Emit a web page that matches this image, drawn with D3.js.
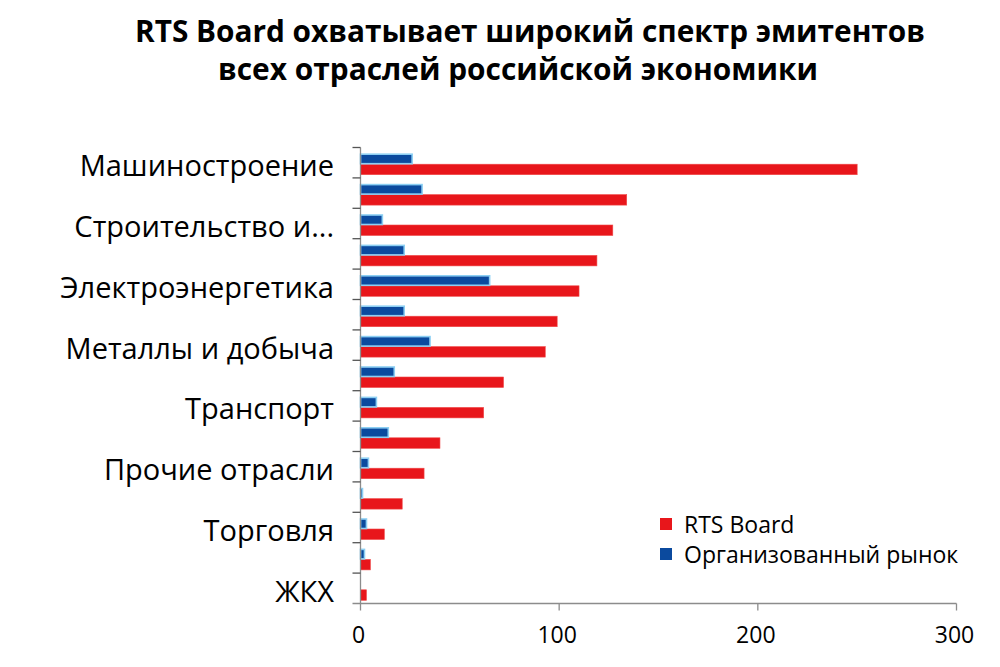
<!DOCTYPE html>
<html>
<head>
<meta charset="utf-8">
<script src="https://cdn.jsdelivr.net/npm/d3@7"></script>
<style>
  html, body { margin: 0; padding: 0; background: #fff; }
  svg { display: block; }
  text { font-family: "Open Sans", "Noto Sans", sans-serif; fill: #000; }
</style>
</head>
<body>
<svg id="chart" width="1000" height="667"></svg>
<script>
// ---- data ----
const categories = [
  "Машиностроение", "Нефть и газ", "Строительство и девелопмент", "Химия и нефтехимия",
  "Электроэнергетика", "Пищевая промышленность", "Металлы и добыча", "Связь",
  "Транспорт", "Финансы", "Прочие отрасли", "Лесная промышленность",
  "Торговля", "Сельское хозяйство", "ЖКХ"
];
const shownLabels = [
  "Машиностроение", "Строительство и...", "Электроэнергетика", "Металлы и добыча",
  "Транспорт", "Прочие отрасли", "Торговля", "ЖКХ"
];
const rtsBoard = [250, 134, 127, 119, 110, 99, 93, 72, 62, 40, 32, 21, 12, 5, 3];
const organized = [26, 31, 11, 22, 65, 22, 35, 17, 8, 14, 4, 1, 3, 2, 0];
const xTicks = [0, 100, 200, 300];
const seriesNames = ["RTS Board", "Организованный рынок"];
const titleLines = [
  "RTS Board охватывает широкий спектр эмитентов",
  "всех отраслей российской экономики"
];

// ---- drawing ----
const svg = d3.select("#chart");
const RED = "#e8161b", BLUE = "#0b4a9e", BLUE_EDGE = "#8ccff3", AXIS = "#8c8c8c";

const x = d3.scaleLinear().domain([0, 300]).range([360.5, 956.5]);
const y = d3.scaleBand().domain(categories).range([147.5, 603.5]).paddingInner(0).paddingOuter(0);
const bw = y.bandwidth();
const groupH = 21;
const sub = d3.scaleBand().domain(["org", "rts"]).range([0, groupH]).padding(0);

// title
svg.append("g").selectAll("text").data(titleLines).join("text")
  .attr("x", (d, i) => i === 0 ? 530 : 518).attr("y", (d, i) => 42 + i * 38)
  .attr("text-anchor", "middle")
  .style("font-weight", "bold").style("font-size", "31px")
  .attr("textLength", (d, i) => i === 0 ? 790 : 600)
  .attr("lengthAdjust", "spacingAndGlyphs")
  .text(d => d);

// bars
const g = svg.append("g");
const rows = g.selectAll("g.row").data(categories.map((c, i) => ({c, r: rtsBoard[i], o: organized[i]})))
  .join("g").attr("class", "row")
  .attr("transform", d => `translate(0,${y(d.c) + (bw - groupH) / 2 + 1.5})`);

rows.append("rect")
  .attr("x", x(0)).attr("y", sub("rts"))
  .attr("width", d => x(d.r) - x(0)).attr("height", sub.bandwidth())
  .attr("fill", RED).attr("stroke", "#f04a4a").attr("stroke-width", 0.6);

rows.filter(d => d.o > 0).append("rect")
  .attr("x", x(0)).attr("y", sub("org") + 0.5)
  .attr("width", d => x(d.o) - x(0)).attr("height", sub.bandwidth() - 1)
  .attr("fill", BLUE).attr("stroke", BLUE_EDGE).attr("stroke-width", 1.6);

// y axis
const yAxisG = svg.append("g");
yAxisG.append("line").attr("x1", x(0)).attr("x2", x(0))
  .attr("y1", y.range()[0]).attr("y2", y.range()[1])
  .attr("stroke", AXIS).attr("stroke-width", 1.3);
const boundaries = categories.map(c => y(c));
yAxisG.selectAll("line.tk").data(boundaries).join("line").attr("class", "tk")
  .attr("x1", x(0) - 8).attr("x2", x(0)).attr("y1", d => d).attr("y2", d => d)
  .attr("stroke", "#555").attr("stroke-width", 1.3);
yAxisG.selectAll("text").data(categories.filter((c, i) => i % 2 === 0))
  .join("text")
  .attr("x", 334).attr("y", d => y(d) + bw / 2 + 2)
  .attr("text-anchor", "end").attr("dominant-baseline", "central")
  .style("font-size", "29px")
  .text((d, i) => shownLabels[i]);

// x axis
const xAxisG = svg.append("g");
xAxisG.append("line").attr("x1", x(0) - 8).attr("x2", x(300))
  .attr("y1", y.range()[1]).attr("y2", y.range()[1])
  .attr("stroke", AXIS).attr("stroke-width", 1.3);
xAxisG.selectAll("line.tk").data(xTicks).join("line").attr("class", "tk")
  .attr("x1", d => x(d)).attr("x2", d => x(d))
  .attr("y1", y.range()[1]).attr("y2", y.range()[1] + 7)
  .attr("stroke", AXIS).attr("stroke-width", 1.3);
xAxisG.selectAll("text").data(xTicks).join("text")
  .attr("x", d => x(d) - 2).attr("y", 634)
  .attr("text-anchor", "middle").attr("dominant-baseline", "central")
  .style("font-size", "23px")
  .text(d => d);

// legend
const legend = svg.append("g").attr("transform", "translate(660,516)");
const legItems = legend.selectAll("g").data(seriesNames).join("g")
  .attr("transform", (d, i) => `translate(0,${i * 30})`);
legItems.append("rect").attr("x", 0).attr("y", 2).attr("width", 12).attr("height", 12)
  .attr("fill", (d, i) => i === 0 ? RED : BLUE);
legItems.append("text").attr("x", 24).attr("y", 8)
  .attr("dominant-baseline", "central").style("font-size", "23px")
  .text(d => d);
</script>
</body>
</html>
